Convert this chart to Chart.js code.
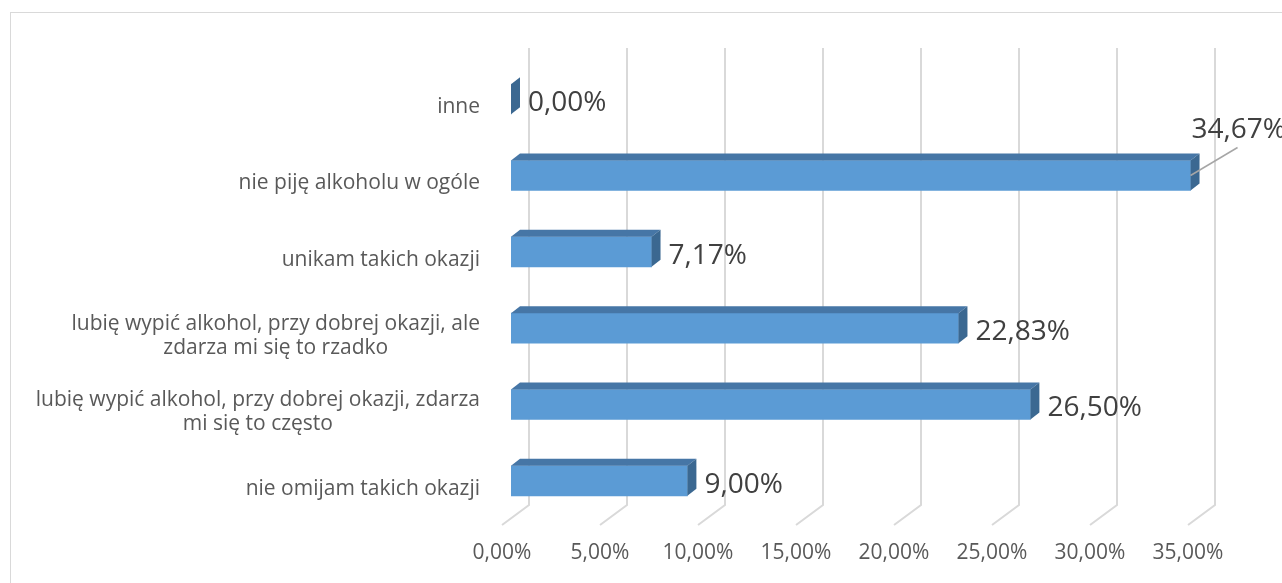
<!DOCTYPE html>
<html>
<head>
<meta charset="utf-8">
<script src="https://cdn.jsdelivr.net/npm/chart.js@4.4.1/dist/chart.umd.min.js"></script>
<style>
  html, body { margin: 0; padding: 0; background: #fff; overflow: hidden; }
  #wrap { position: relative; width: 1282px; height: 583px; }
  #frame { position: absolute; left: 10px; top: 12px; width: 1320px; height: 620px; border: 1px solid #d9d9d9; box-sizing: border-box; }
  canvas { position: absolute; left: 0; top: 0; }
</style>
</head>
<body>
<div id="wrap">
  <div id="frame"></div>
  <canvas id="chart" width="1282" height="583"></canvas>
</div>
<script>
// kategorie (od góry do dołu)
const categories = [
  ["inne"],
  ["nie piję alkoholu w ogóle"],
  ["unikam takich okazji"],
  ["lubię wypić alkohol, przy dobrej okazji, ale", "zdarza mi się to rzadko"],
  ["lubię wypić alkohol, przy dobrej okazji, zdarza", "mi się to często"],
  ["nie omijam takich okazji"]
];
const values = [0, 34.67, 7.17, 22.83, 26.50, 9.00];
const xTicks = [0, 5, 10, 15, 20, 25, 30, 35];

// format procentowy z przecinkiem
function pct(v) {
  return Number(v).toFixed(2).replace(".", ",") + "%";
}

const DX = 9, DY = 7; // przesunięcie "głębi" słupka
const FRONT = "#5B9BD5", TOP = "#4676A6", SIDE = "#3B6891";

const depth3d = {
  id: "depth3d",
  beforeDatasetsDraw(chart) {
    const { ctx, chartArea, scales: { x } } = chart;
    const top = chartArea.top - 13;
    const backFloor = chartArea.bottom - 14;
    const frontFloor = chartArea.bottom + 6;
    ctx.save();
    ctx.strokeStyle = "#d9d9d9";
    ctx.lineWidth = 2;
    xTicks.forEach(v => {
      const px = x.getPixelForValue(v);
      ctx.beginPath();
      ctx.moveTo(px + 2 * DX, top);
      ctx.lineTo(px + 2 * DX, backFloor);
      ctx.lineTo(px - DX, frontFloor);
      ctx.stroke();
    });
    ctx.restore();
  },
  afterDatasetsDraw(chart) {
    const { ctx } = chart;
    const meta = chart.getDatasetMeta(0);
    ctx.save();
    meta.data.forEach((bar, i) => {
      const x0 = Math.min(bar.base, bar.x), x1 = Math.max(bar.base, bar.x);
      const yt = bar.y - bar.height / 2, yb = bar.y + bar.height / 2;

      // górna ściana
      ctx.fillStyle = TOP;
      ctx.beginPath();
      ctx.moveTo(x0, yt);
      ctx.lineTo(x1, yt);
      ctx.lineTo(x1 + DX, yt - DY);
      ctx.lineTo(x0 + DX, yt - DY);
      ctx.closePath();
      ctx.fill();

      // boczna ściana
      ctx.fillStyle = SIDE;
      ctx.beginPath();
      ctx.moveTo(x1, yt);
      ctx.lineTo(x1 + DX, yt - DY);
      ctx.lineTo(x1 + DX, yb - DY);
      ctx.lineTo(x1, yb);
      ctx.closePath();
      ctx.fill();

      // etykieta wartości
      const txt = pct(values[i]);
      ctx.font = "28px 'Open Sans'";
      ctx.fillStyle = "#404040";
      ctx.textAlign = "left";
      ctx.textBaseline = "middle";
      const w = ctx.measureText(txt).width;
      if (x1 + DX + 8 + w > chart.width) {
        // za mało miejsca - etykieta z linią odniesienia
        ctx.strokeStyle = "#a6a6a6";
        ctx.lineWidth = 1.5;
        ctx.beginPath();
        ctx.moveTo(x1, bar.y);
        ctx.lineTo(x1 + 47, bar.y - 28);
        ctx.stroke();
        ctx.fillText(txt, x1 + 1, bar.y - 45);
      } else {
        ctx.fillText(txt, x1 + DX + 8, bar.y + 4);
      }
    });
    ctx.restore();
  },
  afterDraw(chart) {
    // etykiety kategorii: blok wyrównany do prawej, linie wyśrodkowane
    const { ctx, scales: { y } } = chart;
    const lh = 24, right = 480;
    ctx.save();
    ctx.font = "21px 'Open Sans'";
    ctx.fillStyle = "#595959";
    ctx.textAlign = "center";
    ctx.textBaseline = "middle";
    categories.forEach((lines, i) => {
      const cy = y.getPixelForValue(i) + 8;
      const w = Math.max(...lines.map(l => ctx.measureText(l).width));
      const cx = right - w / 2;
      lines.forEach((l, j) => {
        ctx.fillText(l, cx, cy - (lines.length - 1) * lh / 2 + j * lh);
      });
    });
    ctx.restore();
  }
};

new Chart(document.getElementById("chart"), {
  type: "bar",
  data: {
    labels: categories,
    datasets: [{
      data: values,
      backgroundColor: FRONT,
      borderWidth: 0,
      barThickness: 30
    }]
  },
  options: {
    indexAxis: "y",
    responsive: false,
    animation: false,
    layout: { padding: { top: 61, right: 85, left: 0, bottom: 0 } },
    plugins: {
      legend: { display: false },
      tooltip: { enabled: false }
    },
    scales: {
      x: {
        min: 0,
        max: 35,
        border: { display: false },
        grid: { display: false, drawTicks: false },
        afterBuildTicks: scale => { scale.ticks = xTicks.map(v => ({ value: v })); },
        afterFit: scale => { scale.height = 64; },
        ticks: {
          padding: 21,
          labelOffset: -DX,
          color: "#595959",
          font: { family: "'Open Sans'", size: 21 },
          callback: v => pct(v)
        }
      },
      y: {
        border: { display: false },
        grid: { display: false, drawTicks: false },
        afterFit: scale => { scale.width = 511; },
        ticks: { display: false }
      }
    }
  },
  plugins: [depth3d]
});
</script>
</body>
</html>
